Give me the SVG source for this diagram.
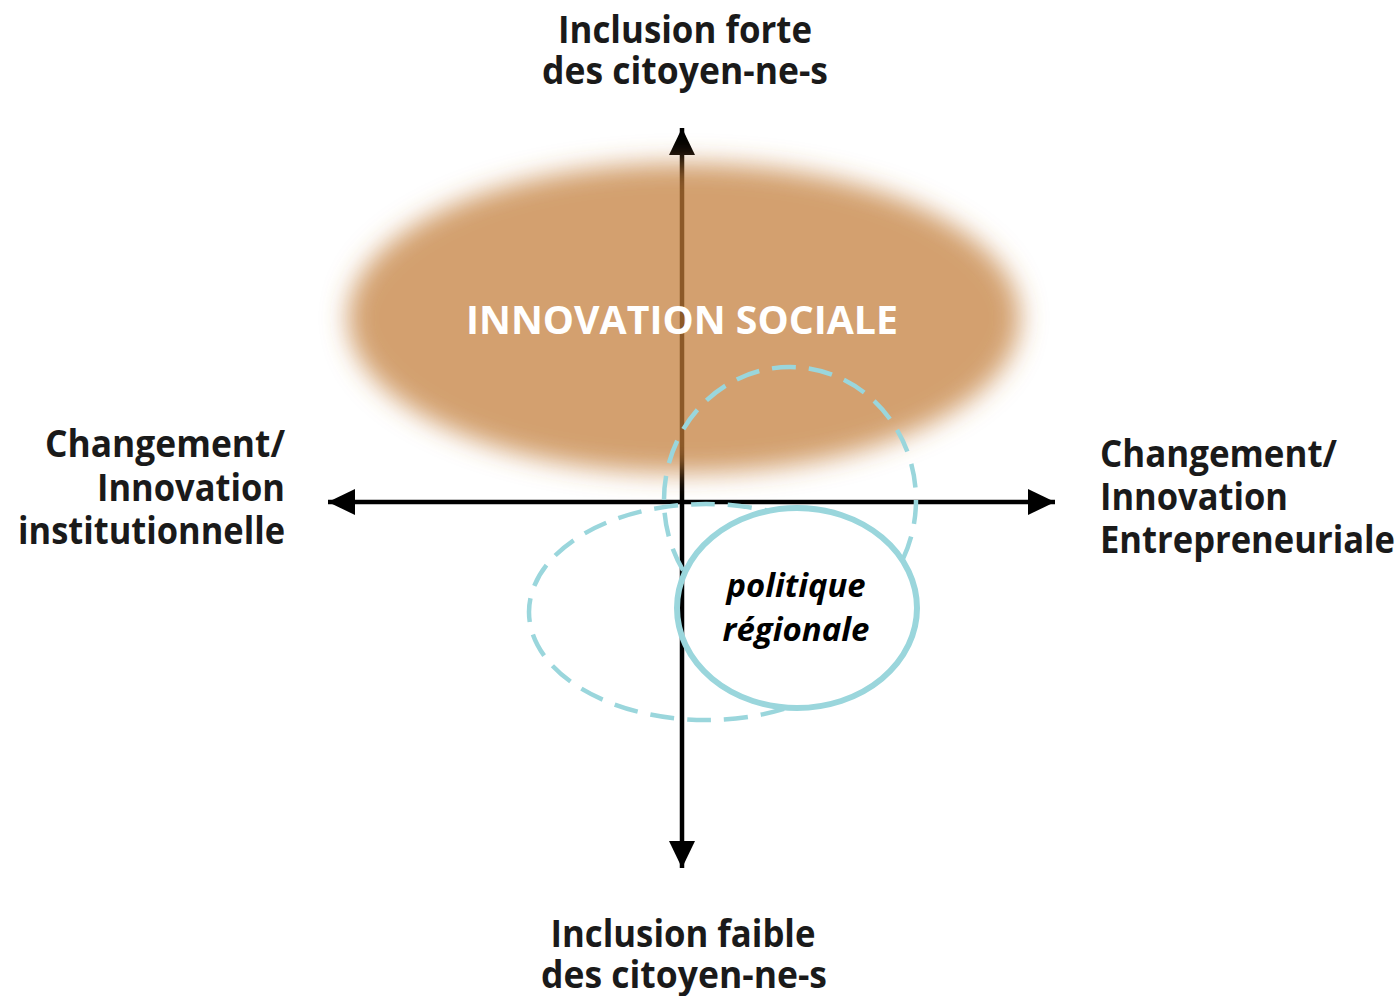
<svg xmlns="http://www.w3.org/2000/svg" width="1399" height="996" viewBox="0 0 1399 996">
  <style>
    .lbl { font-family: "Open Sans", "Liberation Sans", sans-serif; font-weight: bold; font-size: 38px; fill: #1a1a1a; }
    .axis { stroke: #000; stroke-width: 4.5; fill: none; }
    .dash { stroke: #9ad6dc; stroke-width: 4.5; fill: none; stroke-dasharray: 24 13; }
    .solid { stroke: #9ad6dc; stroke-width: 6; fill: none; }
  </style>
  <defs>
    <marker id="arrow" viewBox="0 0 27 26" refX="27" refY="13" markerWidth="27" markerHeight="26" markerUnits="userSpaceOnUse" orient="auto-start-reverse">
      <path d="M0,0 L27,13 L0,26 z" fill="#000"/>
    </marker>
    <filter id="blur" x="-20%" y="-30%" width="140%" height="160%">
      <feGaussianBlur stdDeviation="13"/>
    </filter>
    <mask id="holeMask" maskUnits="userSpaceOnUse" x="0" y="0" width="1399" height="996">
      <rect x="0" y="0" width="1399" height="996" fill="#fff"/>
      <ellipse cx="797" cy="608" rx="120" ry="100" fill="#000"/>
    </mask>
  </defs>
  <rect width="1399" height="996" fill="#fff"/>

  <g id="connectors">
    <line class="axis" x1="682" y1="868" x2="682" y2="128" marker-start="url(#arrow)" marker-end="url(#arrow)"/>
    <line class="axis" x1="328" y1="502" x2="1055" y2="502" marker-start="url(#arrow)" marker-end="url(#arrow)"/>
  </g>

  <g id="innovation-sociale">
    <ellipse cx="684" cy="318" rx="336" ry="155" fill="#c27c37" fill-opacity="0.72" filter="url(#blur)"/>
    <text x="682" y="334" text-anchor="middle" font-family="'Open Sans', 'Liberation Sans', sans-serif" font-weight="bold" font-size="39" fill="#fff" textLength="432" lengthAdjust="spacingAndGlyphs">INNOVATION SOCIALE</text>
  </g>

  <g id="dashed-shapes" mask="url(#holeMask)">
    <ellipse class="dash" cx="706" cy="612" rx="177" ry="108"/>
    <ellipse class="dash" cx="790" cy="500" rx="126" ry="133"/>
  </g>

  <g id="politique-regionale">
    <ellipse class="solid" cx="797" cy="608" rx="120" ry="100"/>
    <text x="796" y="597" text-anchor="middle" font-family="'Open Sans', 'Liberation Sans', sans-serif" font-weight="bold" font-style="italic" font-size="33" fill="#000" textLength="139" lengthAdjust="spacingAndGlyphs">politique</text>
    <text x="796" y="641" text-anchor="middle" font-family="'Open Sans', 'Liberation Sans', sans-serif" font-weight="bold" font-style="italic" font-size="33" fill="#000" textLength="147" lengthAdjust="spacingAndGlyphs">régionale</text>
  </g>

  <g id="label-top">
    <text class="lbl" x="685" y="43" text-anchor="middle" textLength="254" lengthAdjust="spacingAndGlyphs">Inclusion forte</text>
    <text class="lbl" x="685" y="84" text-anchor="middle" textLength="286" lengthAdjust="spacingAndGlyphs">des citoyen-ne-s</text>
  </g>

  <g id="label-bottom">
    <text class="lbl" x="683" y="947" text-anchor="middle" textLength="265" lengthAdjust="spacingAndGlyphs">Inclusion faible</text>
    <text class="lbl" x="684" y="988" text-anchor="middle" textLength="286" lengthAdjust="spacingAndGlyphs">des citoyen-ne-s</text>
  </g>

  <g id="label-left">
    <text class="lbl" x="285" y="457" text-anchor="end" textLength="240" lengthAdjust="spacingAndGlyphs">Changement/</text>
    <text class="lbl" x="285" y="501" text-anchor="end" textLength="188" lengthAdjust="spacingAndGlyphs">Innovation</text>
    <text class="lbl" x="285" y="544" text-anchor="end" textLength="267" lengthAdjust="spacingAndGlyphs">institutionnelle</text>
  </g>

  <g id="label-right">
    <text class="lbl" x="1100" y="467" textLength="237" lengthAdjust="spacingAndGlyphs">Changement/</text>
    <text class="lbl" x="1100" y="510" textLength="188" lengthAdjust="spacingAndGlyphs">Innovation</text>
    <text class="lbl" x="1100" y="553" textLength="295" lengthAdjust="spacingAndGlyphs">Entrepreneuriale</text>
  </g>
</svg>
